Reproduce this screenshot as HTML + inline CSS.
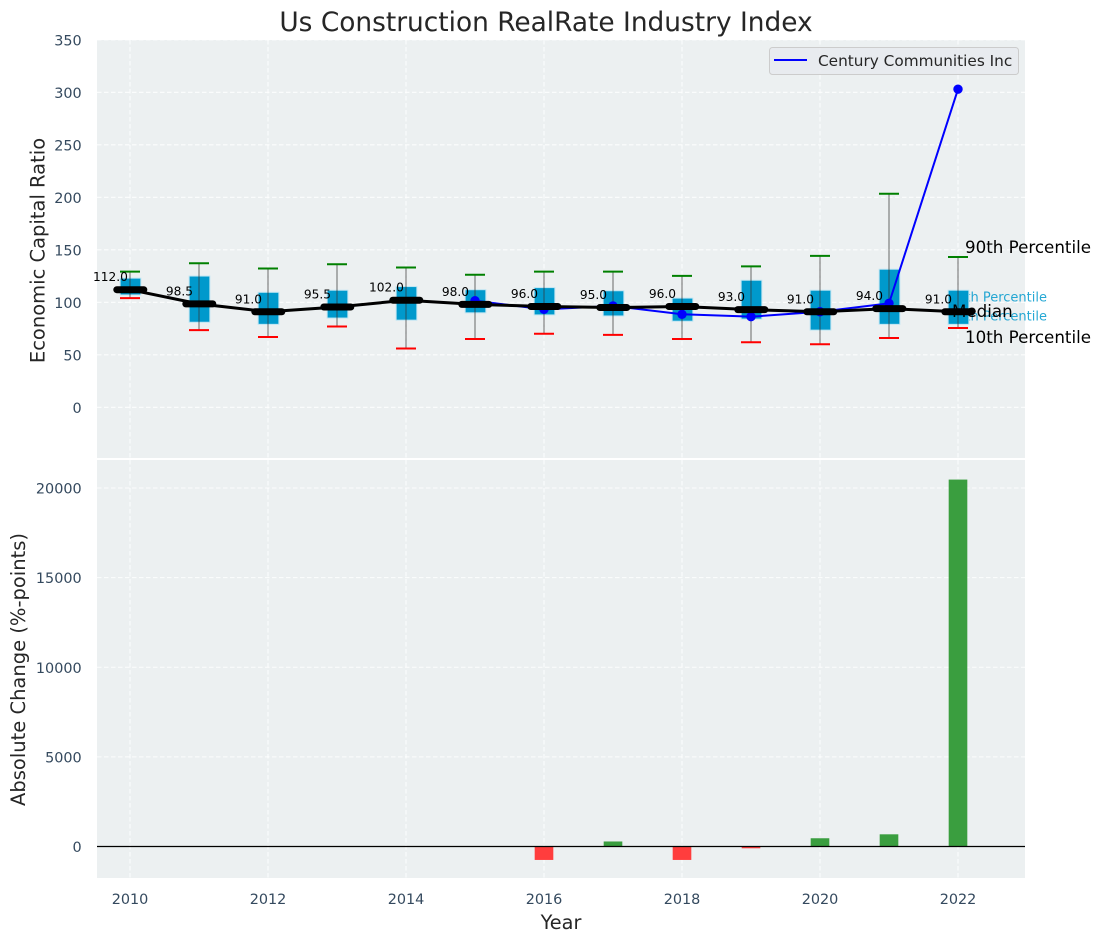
<!DOCTYPE html>
<html lang="en">
<head>
<meta charset="utf-8">
<title>Us Construction RealRate Industry Index</title>
<style>
html,body{margin:0;padding:0;background:#fff;}
svg{display:block;font-family:"DejaVu Sans","Liberation Sans",sans-serif;}
</style>
</head>
<body>
<svg id="chart" xmlns="http://www.w3.org/2000/svg" width="1100" height="942" viewBox="0 0 1100 942">
  <text x="546" y="31" font-size="26.4" fill="#262626" text-anchor="middle">Us Construction RealRate Industry Index</text>
  <rect x="97" y="40" width="928" height="418" fill="#ecf0f1"/>
  <rect x="97" y="460" width="928" height="418" fill="#ecf0f1"/>
  <g id="grid"></g>
  <g id="percentile-labels-under">
    <text x="1047" y="301.5" font-size="13" fill="#0099cc" fill-opacity="0.85" text-anchor="end">75th Percentile</text>
    <text x="1047" y="320.5" font-size="13" fill="#0099cc" fill-opacity="0.85" text-anchor="end">25th Percentile</text>
  </g>
  <g id="bars"></g>
  <g id="boxes"></g>
  <g id="company"></g>
  <g id="medians"></g>
  <g id="ticks"></g>
  <text x="965" y="253" font-size="16.7" fill="#000">90th Percentile</text>
  <text x="952" y="317" font-size="16.7" fill="#000">Median</text>
  <text x="965" y="343" font-size="16.7" fill="#000">10th Percentile</text>
  <text transform="translate(44.5,250.5) rotate(-90)" font-size="19.5" fill="#262626" text-anchor="middle">Economic Capital Ratio</text>
  <text transform="translate(25,669.5) rotate(-90)" font-size="19.5" fill="#262626" text-anchor="middle">Absolute Change (%-points)</text>
  <text x="561" y="929" font-size="19.3" fill="#262626" text-anchor="middle">Year</text>
  <g>
    <rect x="769.5" y="47.5" width="249" height="27" rx="3" fill="#e8eaee" fill-opacity="0.9" stroke="#cccccc"/>
    <line x1="774" x2="807" y1="60" y2="60" stroke="#0000ff" stroke-width="2"/>
    <text x="818" y="66" font-size="15.3" fill="#262626">Century Communities Inc</text>
  </g>
</svg>
<script>
const years = [2010, 2011, 2012, 2013, 2014, 2015, 2016, 2017, 2018, 2019, 2020, 2021, 2022];
const p90 = [129.2, 137.2, 132.2, 136.2, 133.2, 126.2, 129.2, 129.2, 125.2, 134.2, 144.2, 203.4, 143.2];
const p75 = [123, 125, 109.5, 111.5, 115, 112, 114, 111, 104, 121, 111.5, 131.5, 111.5];
const medianValues = [112, 98.5, 91, 95.5, 102, 98, 96, 95, 96, 93, 91, 94, 91];
const p25 = [107, 81, 79, 85, 83, 90, 88, 87, 82, 84, 73.5, 79, 79];
const p10 = [104, 73.5, 67, 77, 56, 65, 70, 69, 65, 62, 60, 66, 75.5];
const companyValues = [null, null, null, null, null, 101.5, 93.3, 96.5, 88.6, 86.3, 91, 99, 303];
const changeValues = [null, null, null, null, null, null, -750, 280, -750, -100, 460, 680, 20470];
const topTicks = [0, 50, 100, 150, 200, 250, 300, 350];
const bottomTicks = [0, 5000, 10000, 15000, 20000];
const xTicks = [2010, 2012, 2014, 2016, 2018, 2020, 2022];

const NS = 'http://www.w3.org/2000/svg';
const xScale = v => 130 + (v - 2010) * 69;
const yTop = v => 407.3 - v * 1.05;
const yBottom = v => 846.5 - v * 0.017925;

function mk(parentId, tag, attrs, text) {
  const el = document.createElementNS(NS, tag);
  for (const k in attrs) el.setAttribute(k, attrs[k]);
  if (text !== undefined) el.textContent = text;
  document.getElementById(parentId).appendChild(el);
  return el;
}

const gridStyle = {stroke: '#ffffff', 'stroke-width': 1.1, 'stroke-dasharray': '4.5 2.5', 'stroke-opacity': 0.85, fill: 'none'};
const tickStyle = {fill: '#34495e', 'font-size': 14.4};

topTicks.forEach(t => {
  const g = mk('grid', 'line', Object.assign({x1: 97, x2: 1025, y1: yTop(t), y2: yTop(t)}, gridStyle));
  
  
  const l = mk('ticks', 'text', Object.assign({x: 81.7, y: yTop(t) + 5.5, 'text-anchor': 'end'}, tickStyle), String(t));
  
  
});
bottomTicks.forEach(t => {
  const g = mk('grid', 'line', Object.assign({x1: 97, x2: 1025, y1: yBottom(t), y2: yBottom(t)}, gridStyle));
  
  
  const l = mk('ticks', 'text', Object.assign({x: 81.7, y: yBottom(t) + 5.5, 'text-anchor': 'end'}, tickStyle), String(t));
  
  
});
xTicks.forEach(t => {
  const g1 = mk('grid', 'line', Object.assign({x1: xScale(t), x2: xScale(t), y1: 40, y2: 458}, gridStyle));
  
  
  const g2 = mk('grid', 'line', Object.assign({x1: xScale(t), x2: xScale(t), y1: 460, y2: 878}, gridStyle));
  
  
  const l = mk('ticks', 'text', Object.assign({x: xScale(t), y: 904, 'text-anchor': 'middle'}, tickStyle), String(t));
  
  
});

const barHalf = 0.135;
years.forEach((yr, i) => {
  const v = changeValues[i];
  if (v === null) return;
  const y0 = yBottom(Math.max(v, 0));
  const y1 = yBottom(Math.min(v, 0));
  const bar = mk('bars', 'rect', {
    x: xScale(yr - barHalf), y: y0,
    width: xScale(yr + barHalf) - xScale(yr - barHalf),
    height: y1 - y0,
    fill: v >= 0 ? '#3a9e3f' : '#ff3d3d'
  });
  
  
});
const zero = mk('bars', 'line', {x1: 97, x2: 1025, y1: yBottom(0), y2: yBottom(0), stroke: '#000', 'stroke-width': 1.2});



const boxHalf = 0.15;
const capHalf = 10;
years.forEach((yr, i) => {
  const x = xScale(yr);
  const box = mk('boxes', 'rect', {
    x: xScale(yr - boxHalf) + 0.5, y: yTop(p75[i]),
    width: xScale(yr + boxHalf) - xScale(yr - boxHalf),
    height: yTop(p25[i]) - yTop(p75[i]),
    fill: '#0099cc', stroke: '#bfe5f2', 'stroke-width': 1
  });
  
  
  const whisker = mk('boxes', 'line', {x1: x, x2: x, y1: yTop(p90[i]), y2: yTop(p10[i]), stroke: '#333', 'stroke-opacity': 0.6, 'stroke-width': 1.2});
  
  
  const capHi = mk('boxes', 'line', {x1: x - capHalf, x2: x + capHalf, y1: yTop(p90[i]), y2: yTop(p90[i]), stroke: '#008000', 'stroke-width': 2});
  
  
  const capLo = mk('boxes', 'line', {x1: x - capHalf, x2: x + capHalf, y1: yTop(p10[i]), y2: yTop(p10[i]), stroke: '#ff0000', 'stroke-width': 2});
  
  
});

const companyPts = years.map((yr, i) => companyValues[i] === null ? null : xScale(yr) + ',' + yTop(companyValues[i])).filter(Boolean);
const companyLine = mk('company', 'polyline', {points: companyPts.join(' '), fill: 'none', stroke: '#0000ff', 'stroke-width': 2});


years.forEach((yr, i) => {
  if (companyValues[i] === null) return;
  const dot = mk('company', 'circle', {cx: xScale(yr), cy: yTop(companyValues[i]), r: 4.7, fill: '#0000ff'});
  
  
});

const medianLine = mk('medians', 'polyline', {
  points: years.map((yr, i) => xScale(yr) + ',' + yTop(medianValues[i])).join(' '),
  fill: 'none', stroke: '#000', 'stroke-width': 3
});


years.forEach((yr, i) => {
  const y = yTop(medianValues[i]);
  const seg = mk('medians', 'line', {x1: xScale(yr) - 13.2, x2: xScale(yr) + 13.8, y1: y, y2: y, stroke: '#000', 'stroke-width': 7, 'stroke-linecap': 'round'});
  
  
  const lab = mk('medians', 'text', {x: xScale(yr) - 19.5, y: y - 8.5, 'font-size': 12.2, fill: '#000', 'text-anchor': 'middle'}, medianValues[i].toFixed(1));
  
  
});
</script>
</body>
</html>
